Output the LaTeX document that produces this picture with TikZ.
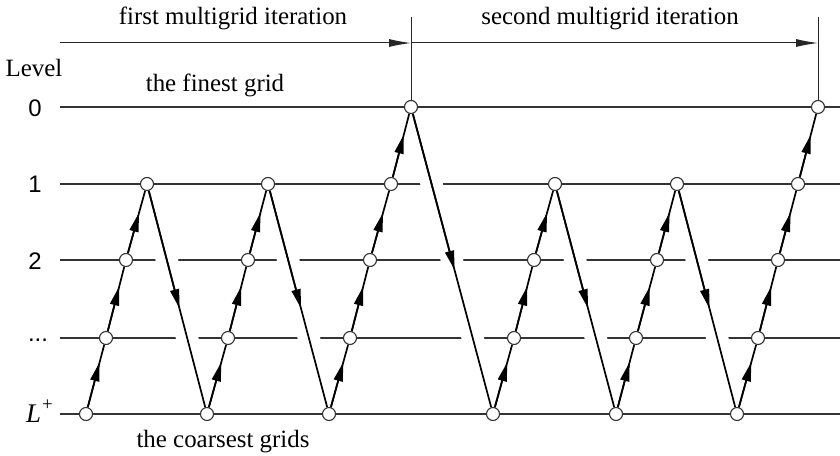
\documentclass[tikz,border=0pt]{standalone}
\usepackage{fontspec}
\setmainfont{Liberation Serif}
\newfontfamily\digitfont{Liberation Sans}
\usetikzlibrary{arrows.meta,calc}
\pgfdeclarelayer{gridlayer}
\pgfdeclarelayer{halolayer}
\pgfdeclarelayer{seglayer}
\pgfsetlayers{gridlayer,halolayer,seglayer,main}
\begin{document}
\begin{tikzpicture}[x=1bp,y=-1bp,
  gridline/.style={line width=1.2bp, draw=black!80},
  pt/.style={circle, draw=black!80, fill=white, line width=1.1bp, minimum size=13bp, inner sep=0pt},
  seg/.style={line width=1.7bp, draw=black},
  segtip/.style={line width=1.7bp, draw=black, -{Triangle[length=19bp,width=9bp]}},
  halo/.style={draw=white, line width=22bp, shorten <=40bp, shorten >=40bp},
  iterline/.style={line width=1bp, draw=black!85},
  iterarrow/.style={line width=1bp, draw=black!85, -{Latex[length=22bp,width=8bp]}},
  lbl/.style={font=\fontsize{25}{30}\selectfont, anchor=base, inner sep=0pt},
  lvl/.style={font=\digitfont\fontsize{24}{28}\selectfont, anchor=base, inner sep=0pt}
]
\useasboundingbox (0,0) rectangle (840,456);

% level coordinates
\foreach \n/\y in {0/107,1/184,2/260,3/338,4/414}{
  \coordinate (gl\n) at (60,\y);
  \coordinate (gr\n) at (840,\y);
}

% nodes
\node[pt] (a0) at (86,414) {};
\node[pt] (a1) at (106,338) {};
\node[pt] (a2) at (126,260) {};
\node[pt] (a3) at (147,184) {};
\node[pt] (b0) at (207,414) {};
\node[pt] (b1) at (228,338) {};
\node[pt] (b2) at (248,260) {};
\node[pt] (b3) at (268,184) {};
\node[pt] (c0) at (329,414) {};
\node[pt] (c1) at (350,338) {};
\node[pt] (c2) at (370,260) {};
\node[pt] (c3) at (391,184) {};
\node[pt] (c4) at (411,107) {};
\node[pt] (d0) at (493,414) {};
\node[pt] (d1) at (514,338) {};
\node[pt] (d2) at (534,260) {};
\node[pt] (d3) at (555,184) {};
\node[pt] (e0) at (616,414) {};
\node[pt] (e1) at (636,338) {};
\node[pt] (e2) at (657,260) {};
\node[pt] (e3) at (677,184) {};
\node[pt] (f0) at (737,414) {};
\node[pt] (f1) at (758,338) {};
\node[pt] (f2) at (778,260) {};
\node[pt] (f3) at (798,184) {};
\node[pt] (f4) at (818,107) {};

% grid lines
\begin{pgfonlayer}{gridlayer}
\foreach \n in {0,...,4}{ \draw[gridline] (gl\n) -- (gr\n); }
\end{pgfonlayer}

% halos (gaps in grid lines)
\begin{pgfonlayer}{halolayer}
\foreach \p/\q in {a3/b0,b3/c0,c4/d0,d3/e0,e3/f0}{ \draw[halo] (\p) -- (\q); }
\end{pgfonlayer}

% segments with mid arrowheads
\begin{pgfonlayer}{seglayer}
\foreach \p/\q/\f in {a0/a1/0.68,a1/a2/0.66,a2/a3/0.62,a3/b0/0.54,
                      b0/b1/0.68,b1/b2/0.66,b2/b3/0.62,b3/c0/0.54,
                      c0/c1/0.68,c1/c2/0.66,c2/c3/0.62,c3/c4/0.64,c4/d0/0.53,
                      d0/d1/0.68,d1/d2/0.66,d2/d3/0.62,d3/e0/0.54,
                      e0/e1/0.68,e1/e2/0.66,e2/e3/0.62,e3/f0/0.54,
                      f0/f1/0.68,f1/f2/0.66,f2/f3/0.62,f3/f4/0.64}{
  \draw[seg] (\p) -- (\q);
  \draw[segtip] (\p) -- ($(\p)!\f!(\q)$);
}

% iteration markers
\coordinate (t1) at (411,17);
\coordinate (t2) at (818,17);
\coordinate (s0) at (60,43);
\coordinate (s1) at (411,43);
\coordinate (s2) at (818,43);
\draw[iterline] (t1) -- (c4);
\draw[iterline] (t2) -- (f4);
\draw[iterarrow] (s0) -- (s1);
\draw[iterarrow] (s1) -- (s2);
\end{pgfonlayer}

% texts
\node[lbl] (it1) at (233,25) {first multigrid iteration};
\node[lbl] (it2) at (610,25) {second multigrid iteration};
\node[lbl] (lev) at (34,77) {Level};
\node[lbl] (fine) at (215,92) {the finest grid};
\node[lbl] (coarse) at (223,447) {the coarsest grids};
\node[lvl] (l0) at (35,117) {0};
\node[lvl] (l1) at (35,193) {1};
\node[lvl] (l2) at (35,270) {2};
\node[lvl] (l3) at (38,342) {...};
\node[lbl, anchor=base west] (l4) at (26,422) {\fontsize{27}{30}\selectfont\itshape L\kern1bp\raisebox{0.42em}{\fontsize{19}{22}\selectfont\upshape +}};
\end{tikzpicture}
\end{document}
